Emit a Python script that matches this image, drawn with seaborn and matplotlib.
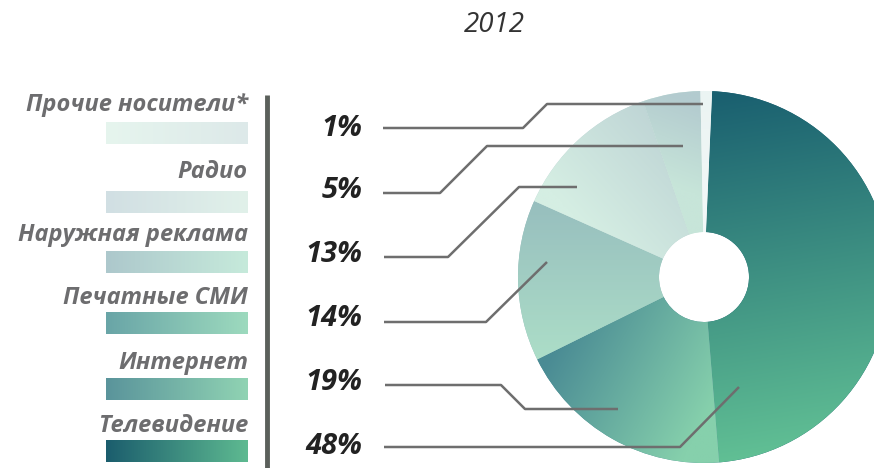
import numpy as np
import matplotlib.pyplot as plt
import matplotlib.colors as mcolors
import seaborn as sns

# данные
categories = ['Телевидение', 'Интернет', 'Печатные СМИ', 'Наружная реклама', 'Радио', 'Прочие носители*']
shares = [48, 19, 14, 13, 5, 1]
pct_labels = ['48%', '19%', '14%', '13%', '5%', '1%']
year = '2012'

# градиенты секторов: (точка0, цвет0, точка1, цвет1) в пикселях картинки
slice_grad = [
    ((720, 95), '#1a6070', (780, 460), '#62c195'),
    ((545, 365), '#4a8b94', (690, 445), '#86d0ac'),
    ((560, 200), '#97bebe', (560, 365), '#addfc8'),
    ((660, 110), '#bed4d5', (560, 200), '#d5eee3'),
    ((660, 180), '#c7e5d9', (690, 100), '#b3cbcf'),
    ((700, 95), '#ebf4f3', (705, 230), '#f3f8f8'),
]
# градиенты образцов легенды (слева, справа)
swatch_grad = [('#1b5d6d', '#5eba91'), ('#5a949b', '#90d3b3'), ('#69a5a7', '#9ddabe'),
               ('#adc8cc', '#c6eadb'), ('#d1dfe3', '#e1f1ea'), ('#e6f5ee', '#dde9e9')]

sns.set_theme(style='white')
plt.rcParams['font.family'] = ['Open Sans', 'DejaVu Sans']

W, H = 874, 468
fig = plt.figure(figsize=(W / 100, H / 100), dpi=100)
ax = fig.add_axes([0, 0, 1, 1])


def Y(py):
    return H - py


cx, cy, R, r_hole = 704, 277, 186, 45

wedges, _ = ax.pie(shares, startangle=87.5, counterclock=False, radius=R,
                   center=(cx, Y(cy)), wedgeprops=dict(width=R - r_hole, linewidth=0),
                   frame=True)
ax.set_xlim(0, W)
ax.set_ylim(0, H)
ax.set_aspect('equal')
ax.axis('off')

# заливка секторов градиентом
n = 300
gx = np.linspace(cx - R, cx + R, n)
gy = np.linspace(cy - R, cy + R, n)
GX, GY = np.meshgrid(gx, gy)
for w, (p0, c0, p1, c1) in zip(wedges, slice_grad):
    d = np.array(p1, float) - np.array(p0, float)
    t = ((GX - p0[0]) * d[0] + (GY - p0[1]) * d[1]) / (d @ d)
    t = np.clip(t, 0, 1)[..., None]
    rgb = (1 - t) * np.array(mcolors.to_rgb(c0)) + t * np.array(mcolors.to_rgb(c1))
    w.set_facecolor(c0)
    im = ax.imshow(rgb, extent=[cx - R, cx + R, Y(cy + R), Y(cy - R)],
                   origin='upper', interpolation='bilinear', zorder=2)
    im.set_clip_path(w)

# выноски
line_kw = dict(color='#6e6e6e', lw=1.8, solid_capstyle='butt', zorder=3)
leaders = [
    [(384, 447), (680, 447), (739, 387)],
    [(385, 385), (501, 385), (525, 409), (618, 409)],
    [(384, 322), (486, 322), (547, 262)],
    [(384, 257), (448, 257), (519, 187), (577, 187)],
    [(383, 193), (440, 193), (487, 146), (683, 146)],
    [(383, 128), (523, 128), (547, 104), (703, 104)],
]
pct_y = [447, 383, 319, 255, 191, 128]
for pts, lab, py in zip(leaders, pct_labels, pct_y):
    xs = [p[0] for p in pts]
    ys = [Y(p[1]) for p in pts]
    ax.plot(xs, ys, **line_kw)
    ax.text(362, Y(py), lab, ha='right', va='center', fontsize=21,
            fontweight='bold', fontstyle='italic', color='#222222')

# легенда
label_y = [426, 363, 298, 235, 172, 105]
swatch_y = [(440, 462), (378, 400), (312, 334), (251, 273), (191, 213), (122, 144)]
for cat, (c0, c1), ly, (s0, s1) in zip(categories, swatch_grad, label_y, swatch_y):
    grad = np.linspace(0, 1, 200)[None, :, None]
    rgb = (1 - grad) * np.array(mcolors.to_rgb(c0)) + grad * np.array(mcolors.to_rgb(c1))
    ax.imshow(rgb, extent=[106, 248, Y(s1), Y(s0)], aspect='auto', zorder=2)
    ax.text(248, Y(ly), cat, ha='right', va='center', fontsize=17,
            fontweight='bold', fontstyle='italic', color='#6d6d6f')

ax.plot([267, 267], [Y(95), Y(470)], color='#5b605b', lw=3.5, solid_capstyle='butt')
ax.set_xlim(0, W)
ax.set_ylim(0, H)

ax.text(494, Y(25), year, ha='center', va='center', fontsize=20,
        fontstyle='italic', color='#333333')

fig.savefig('out.png', dpi=100)
